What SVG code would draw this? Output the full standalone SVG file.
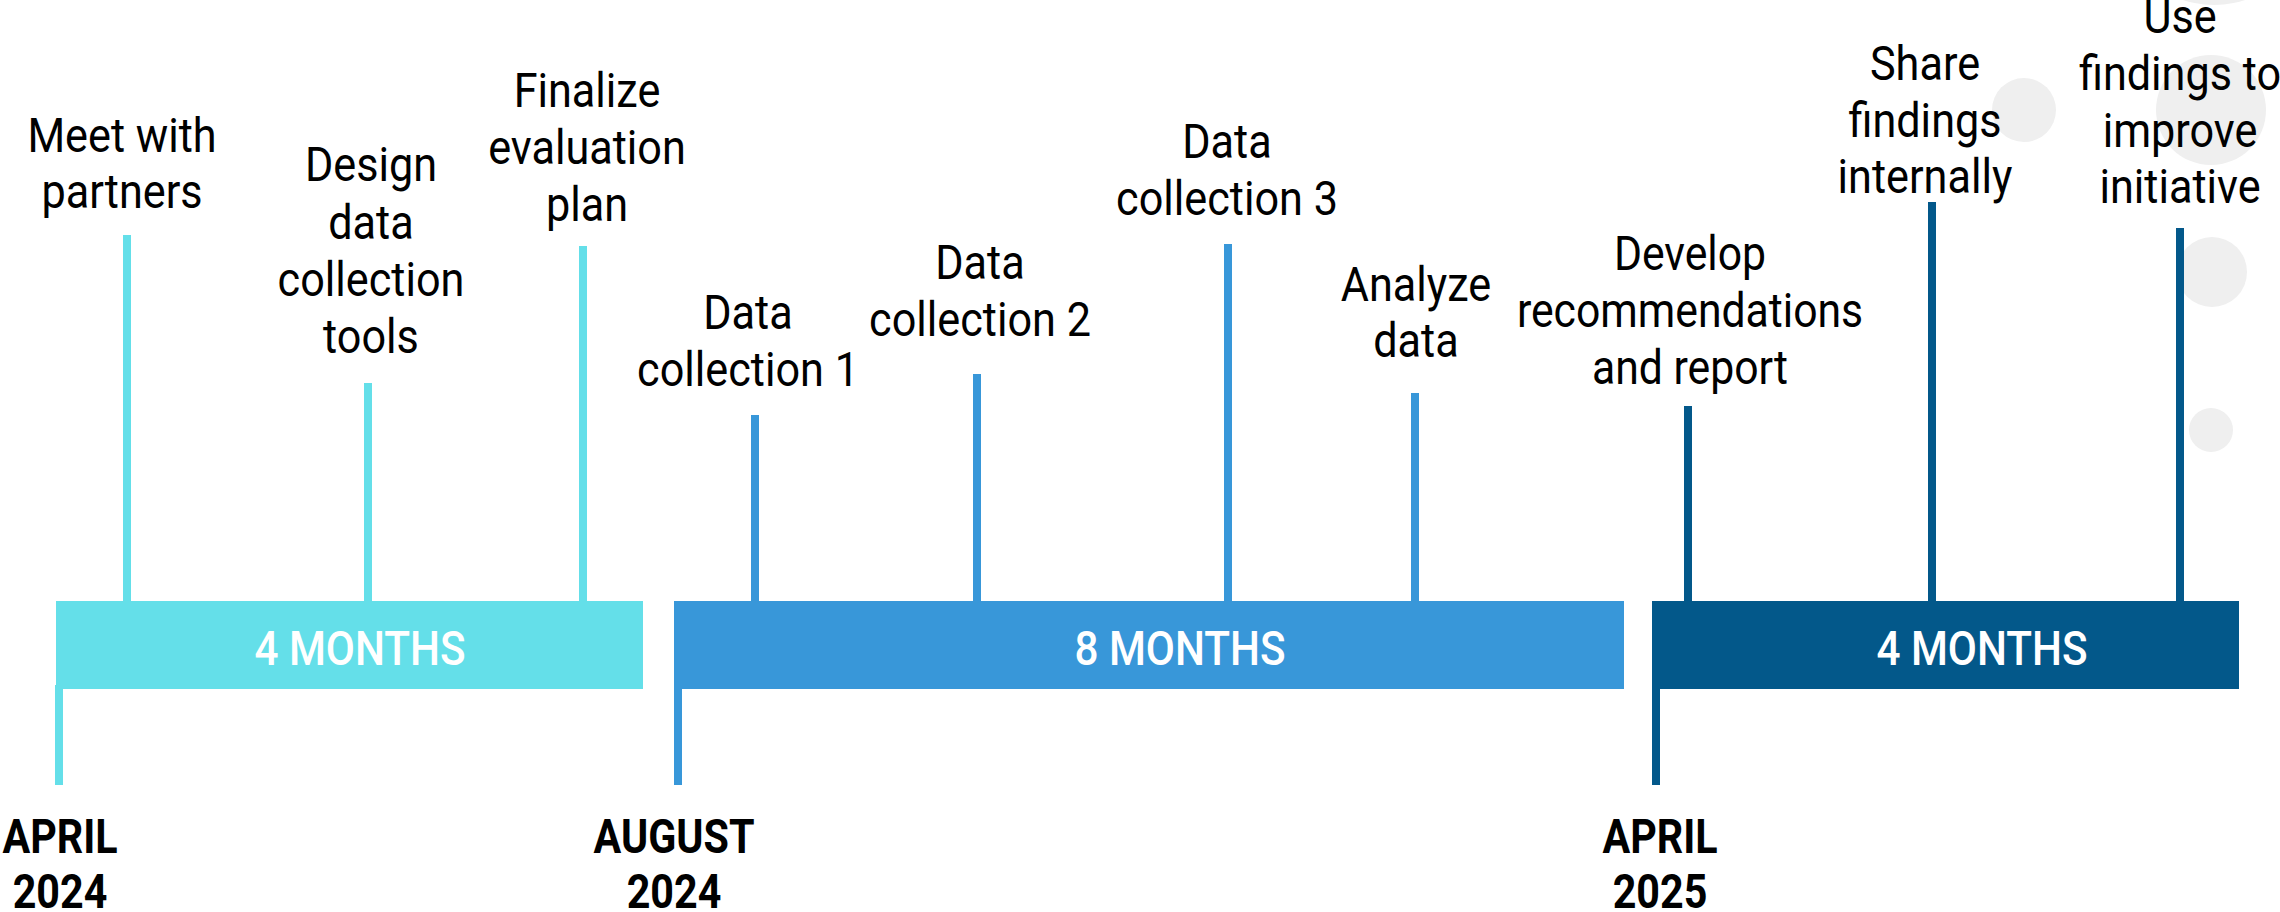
<svg xmlns="http://www.w3.org/2000/svg" width="2280" height="912" viewBox="0 0 2280 912">
<style>
.lbl{font-family:Roboto,"Liberation Sans",sans-serif;font-size:48px;fill:#000;text-anchor:middle}
.date{font-family:Roboto,"Liberation Sans",sans-serif;font-size:48px;font-weight:700;fill:#000;text-anchor:middle}
.mon{font-family:Roboto,"Liberation Sans",sans-serif;font-size:48px;font-weight:500;fill:#fff;text-anchor:middle}
.c1{fill:#64DFE9}.c2{fill:#3897D9}.c3{fill:#03588A}
.dot{fill:#EFEFEF}
</style>
<rect width="2280" height="912" fill="#fff"/>
<g id="decor">
<circle class="dot" cx="2214" cy="-95" r="100"/>
<circle class="dot" cx="2024" cy="110" r="32"/>
<circle class="dot" cx="2211" cy="110" r="55"/>
<circle class="dot" cx="2212" cy="272" r="35"/>
<circle class="dot" cx="2211" cy="430" r="22"/>
</g>
<g id="connectors">
<rect class="c1" x="123" y="235" width="8" height="370"/>
<rect class="c1" x="364" y="383" width="8" height="222"/>
<rect class="c1" x="579" y="246" width="8" height="359"/>
<rect class="c2" x="751" y="415" width="8" height="190"/>
<rect class="c2" x="973" y="374" width="8" height="231"/>
<rect class="c2" x="1224" y="244" width="8" height="361"/>
<rect class="c2" x="1411" y="393" width="8" height="212"/>
<rect class="c3" x="1684" y="406" width="8" height="199"/>
<rect class="c3" x="1928" y="202" width="8" height="403"/>
<rect class="c3" x="2176" y="228" width="8" height="377"/>
<rect class="c1" x="55" y="685" width="8" height="100"/>
<rect class="c2" x="674" y="685" width="8" height="100"/>
<rect class="c3" x="1652" y="685" width="8" height="100"/>
</g>
<g id="phase1">
<rect class="c1" x="56" y="601" width="587" height="88"/>
<text class="mon" transform="translate(360 665) scale(0.88 1)">4 MONTHS</text>
</g>
<g id="phase2">
<rect class="c2" x="674" y="601" width="950" height="88"/>
<text class="mon" transform="translate(1180 665) scale(0.88 1)">8 MONTHS</text>
</g>
<g id="phase3">
<rect class="c3" x="1652" y="601" width="587" height="88"/>
<text class="mon" transform="translate(1982 665) scale(0.88 1)">4 MONTHS</text>
</g>
<g id="date-apr2024">
<text class="date" transform="translate(60 853) scale(0.86 1)">APRIL</text>
<text class="date" transform="translate(60 908) scale(0.86 1)">2024</text>
</g>
<g id="date-aug2024">
<text class="date" transform="translate(674 853) scale(0.86 1)">AUGUST</text>
<text class="date" transform="translate(674 908) scale(0.86 1)">2024</text>
</g>
<g id="date-apr2025">
<text class="date" transform="translate(1660 853) scale(0.86 1)">APRIL</text>
<text class="date" transform="translate(1660 908) scale(0.86 1)">2025</text>
</g>
<g id="m1" transform="translate(122 0) scale(0.9 1)">
<text class="lbl" x="0" y="152">Meet with</text>
<text class="lbl" x="0" y="208">partners</text>
</g>
<g id="m2" transform="translate(371 0) scale(0.9 1)">
<text class="lbl" x="0" y="181">Design</text>
<text class="lbl" x="0" y="239">data</text>
<text class="lbl" x="0" y="296">collection</text>
<text class="lbl" x="0" y="353">tools</text>
</g>
<g id="m3" transform="translate(587 0) scale(0.9 1)">
<text class="lbl" x="0" y="107">Finalize</text>
<text class="lbl" x="0" y="164">evaluation</text>
<text class="lbl" x="0" y="221">plan</text>
</g>
<g id="m4" transform="translate(748 0) scale(0.9 1)">
<text class="lbl" x="0" y="329">Data</text>
<text class="lbl" x="0" y="386">collection 1</text>
</g>
<g id="m5" transform="translate(980 0) scale(0.9 1)">
<text class="lbl" x="0" y="279">Data</text>
<text class="lbl" x="0" y="336">collection 2</text>
</g>
<g id="m6" transform="translate(1227 0) scale(0.9 1)">
<text class="lbl" x="0" y="158">Data</text>
<text class="lbl" x="0" y="215">collection 3</text>
</g>
<g id="m7" transform="translate(1416 0) scale(0.9 1)">
<text class="lbl" x="0" y="301">Analyze</text>
<text class="lbl" x="0" y="357">data</text>
</g>
<g id="m8" transform="translate(1690 0) scale(0.89 1)">
<text class="lbl" x="0" y="270">Develop</text>
<text class="lbl" x="0" y="327">recommendations</text>
<text class="lbl" x="0" y="384">and report</text>
</g>
<g id="m9" transform="translate(1925 0) scale(0.9 1)">
<text class="lbl" x="0" y="80">Share</text>
<text class="lbl" x="0" y="137">findings</text>
<text class="lbl" x="0" y="193">internally</text>
</g>
<g id="m10" transform="translate(2180 0) scale(0.9 1)">
<text class="lbl" x="0" y="33">Use</text>
<text class="lbl" x="0" y="90">findings to</text>
<text class="lbl" x="0" y="147">improve</text>
<text class="lbl" x="0" y="203">initiative</text>
</g>
</svg>
